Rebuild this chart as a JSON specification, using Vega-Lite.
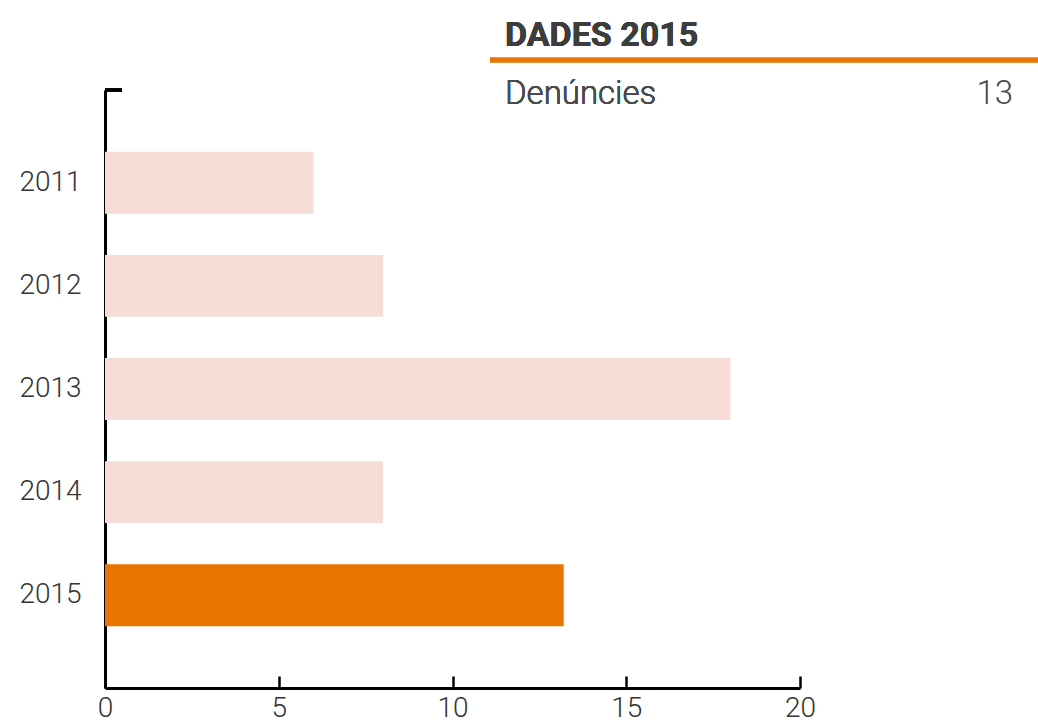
{
  "$schema": "https://vega.github.io/schema/vega-lite/v6.json",
  "width": 695,
  "height": 598,
  "autosize": {"type": "none"},
  "padding": {"left": 105, "top": 90, "right": 238, "bottom": 34},
  "background": "white",
  "config": {
    "view": {"stroke": null},
    "font": "Roboto, 'DejaVu Sans', sans-serif",
    "text": {"font": "Roboto, 'DejaVu Sans', sans-serif"}
  },
  "data": {
    "values": [
      {"year": "2011", "value": 6},
      {"year": "2012", "value": 8},
      {"year": "2013", "value": 18},
      {"year": "2014", "value": 8},
      {"year": "2015", "value": 13.2}
    ]
  },
  "resolve": {"scale": {"y": "independent"}},
  "layer": [
    {
      "mark": {"type": "bar"},
      "encoding": {
        "y": {
          "field": "year", "type": "nominal", "sort": null,
          "scale": {"paddingInner": 0.4, "paddingOuter": 0.6},
          "axis": {
            "title": null, "domain": true, "domainColor": "#000", "domainWidth": 3,
            "ticks": false, "labelPadding": 24, "labelFontSize": 28, "labelColor": "#333",
            "labelFont": "Roboto", "labelFontWeight": 300, "grid": false
          }
        },
        "x": {
          "field": "value", "type": "quantitative",
          "scale": {"domain": [0, 20], "nice": false, "zero": true},
          "axis": {
            "title": null, "values": [0, 5, 10, 15, 20], "grid": false,
            "domain": true, "domainColor": "#000", "domainWidth": 3,
            "ticks": true, "tickSize": -12, "tickWidth": 2.5, "tickColor": "#000",
            "labelPadding": 18, "labelFontSize": 28, "labelColor": "#333",
            "labelFont": "Roboto", "labelFontWeight": 300, "labelFlush": false
          }
        },
        "color": {
          "condition": {"test": "datum.year === '2015'", "value": "#EA7400"},
          "value": "#F7DDD8"
        }
      }
    },
    {
      "mark": {"type": "rule", "color": "#000", "strokeWidth": 3},
      "encoding": {
        "x": {"datum": 0, "type": "quantitative"},
        "x2": {"datum": 0.49},
        "y": {"datum": 1, "type": "quantitative", "scale": {"domain": [0, 1], "nice": false}, "axis": null}
      }
    },
    {
      "mark": {"type": "rule", "color": "#EA7400", "strokeWidth": 4.5},
      "encoding": {
        "x": {"datum": 11.08, "type": "quantitative"},
        "x2": {"datum": 26.85},
        "y": {"datum": 1.0502, "type": "quantitative", "scale": {"domain": [0, 1], "nice": false}, "axis": null}
      }
    },
    {
      "mark": {"type": "text", "text": "DADES 2015", "align": "left", "baseline": "alphabetic", "fontSize": 34, "fontWeight": "bold", "color": "#3d3d3d", "font": "Roboto"},
      "encoding": {
        "x": {"datum": 11.51, "type": "quantitative"},
        "y": {"datum": 1.0736, "type": "quantitative", "scale": {"domain": [0, 1], "nice": false}, "axis": null}
      }
    },
    {
      "mark": {"type": "text", "text": "Denúncies", "align": "left", "baseline": "alphabetic", "fontSize": 33, "fontWeight": 300, "color": "#4a4a4a", "font": "Roboto"},
      "encoding": {
        "x": {"datum": 11.51, "type": "quantitative"},
        "y": {"datum": 0.9766, "type": "quantitative", "scale": {"domain": [0, 1], "nice": false}, "axis": null}
      }
    },
    {
      "transform": [{"filter": "datum.year === '2015'"}],
      "mark": {"type": "text", "align": "right", "baseline": "alphabetic", "fontSize": 33, "fontWeight": 300, "color": "#4a4a4a", "font": "Roboto"},
      "encoding": {
        "text": {"field": "value", "type": "quantitative", "format": ".0f"},
        "x": {"datum": 26.13, "type": "quantitative"},
        "y": {"datum": 0.9766, "type": "quantitative", "scale": {"domain": [0, 1], "nice": false}, "axis": null}
      }
    }
  ]
}
